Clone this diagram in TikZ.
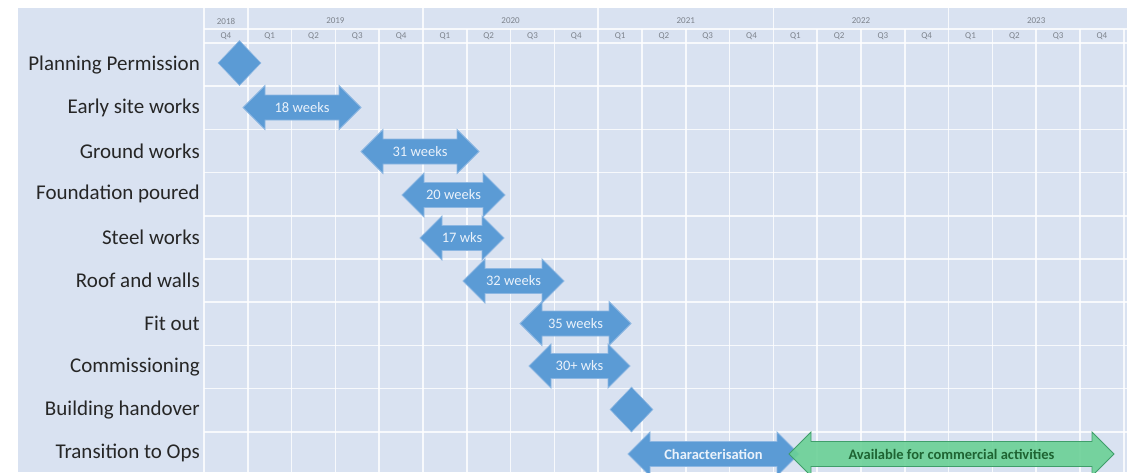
\documentclass[tikz,border=0pt]{standalone}
\usepackage{fontspec}
\setmainfont{Carlito}
\usetikzlibrary{shapes.geometric}
\definecolor{bgblue}{HTML}{D9E2F1}
\definecolor{barblue}{HTML}{5B9BD5}
\definecolor{baredge}{HTML}{8DB7E2}
\definecolor{bargreen}{HTML}{6BD196}
\definecolor{greenedge}{HTML}{3F9E6A}
\definecolor{greentext}{HTML}{1E6432}
\definecolor{labeltext}{HTML}{262626}
\definecolor{headtext}{HTML}{7D838C}
\definecolor{bartext}{HTML}{EAF2FB}
\newcommand\dblarrow[7]{% name, x1, x2, y, fill, edge, label
  \fill[#5,draw=#6,line width=0.8pt]
    (#2,#4) -- (#2+22,#4-22) -- (#2+22,#4-12.5) -- (#3-22,#4-12.5) -- (#3-22,#4-22)
    -- (#3,#4) -- (#3-22,#4+22) -- (#3-22,#4+12.5) -- (#2+22,#4+12.5) -- (#2+22,#4+22) -- cycle;
  \node[bartxt] (#1) at ({(#2+#3)/2},#4) {#7};
}
\begin{document}
\begin{tikzpicture}[x=1pt,y=-1pt,
  rowlabel/.style={anchor=east,font=\fontsize{21}{23}\selectfont,text=labeltext,inner sep=0pt},
  hdr/.style={font=\fontsize{9}{10}\selectfont,text=headtext,inner sep=0pt},
  bartxt/.style={font=\fontsize{14.5}{16}\selectfont,text=bartext,inner sep=0pt},
  gridline/.style={draw=white,line width=1.6pt,opacity=0.8},
  milestone/.style={diamond,fill=barblue,draw=baredge,line width=0.6pt,inner sep=0pt,minimum width=43pt,minimum height=45pt}]
\useasboundingbox (0,0) rectangle (1127,472);
\fill[white] (0,0) rectangle (1127,472);
\fill[bgblue] (18,8) rectangle (1127,472);
% grid
\foreach \k in {0,...,21} {
  \pgfmathsetmacro\xx{204+43.8*\k}
  \draw[gridline] (\xx,29) -- (\xx,472);
}
\foreach \k in {0,1,5,9,13,17} {
  \pgfmathsetmacro\xx{204+43.8*\k}
  \draw[gridline] (\xx,8) -- (\xx,29);
}
\draw[gridline] (204,29) -- (1127,29);
\foreach \r in {0,...,9} {
  \pgfmathsetmacro\yy{43+43.2*\r}
  \draw[gridline] (204,\yy) -- (1127,\yy);
}
% header
\node[hdr] (y2018) at (226,21) {2018};
\node[hdr] (y2019) at (335.4,21) {2019};
\node[hdr] (y2020) at (510.6,21) {2020};
\node[hdr] (y2021) at (685.8,21) {2021};
\node[hdr] (y2022) at (861,21) {2022};
\node[hdr] (y2023) at (1036.2,21) {2023};
\foreach \k/\q in {0/Q4,1/Q1,2/Q2,3/Q3,4/Q4,5/Q1,6/Q2,7/Q3,8/Q4,9/Q1,10/Q2,11/Q3,12/Q4,13/Q1,14/Q2,15/Q3,16/Q4,17/Q1,18/Q2,19/Q3,20/Q4} {
  \pgfmathsetmacro\xx{204+43.8*\k+21.9}
  \node[hdr] (q\k) at (\xx,36) {\q};
}
% row labels
\node[rowlabel] (l1) at (200,64.6) {Planning Permission};
\node[rowlabel] (l2) at (200,107.8) {Early site works};
\node[rowlabel] (l3) at (200,151) {Ground works};
\node[rowlabel] (l4) at (200,194.2) {Foundation poured};
\node[rowlabel] (l5) at (200,237.4) {Steel works};
\node[rowlabel] (l6) at (200,280.6) {Roof and walls};
\node[rowlabel] (l7) at (200,323.8) {Fit out};
\node[rowlabel] (l8) at (200,367) {Commissioning};
\node[rowlabel] (l9) at (200,410.2) {Building handover};
\node[rowlabel] (l10) at (200,453.4) {Transition to Ops};
% milestones
\node[milestone] (m1) at (239.5,63) {};
\node[milestone] (m2) at (631.5,409.5) {};
% bars
\dblarrow{b1}{243}{361}{107.5}{barblue}{baredge}{18 weeks}
\dblarrow{b2}{361}{479}{151.5}{barblue}{baredge}{31 weeks}
\dblarrow{b3}{402}{505}{195}{barblue}{baredge}{20 weeks}
\dblarrow{b4}{420}{504}{238}{barblue}{baredge}{17 wks}
\dblarrow{b5}{463}{564}{281}{barblue}{baredge}{32 weeks}
\dblarrow{b6}{520}{631}{323.5}{barblue}{baredge}{35 weeks}
\dblarrow{b7}{529}{630}{366}{barblue}{baredge}{30+ wks}
\dblarrow{b8}{628}{799}{454}{barblue}{baredge}{\textbf{Characterisation}}
\dblarrow{b9}{789}{1114}{454}{bargreen,fill opacity=0.9}{greenedge}{\textcolor{greentext}{\textbf{Available for commercial activities}}}
\end{tikzpicture}
\end{document}
